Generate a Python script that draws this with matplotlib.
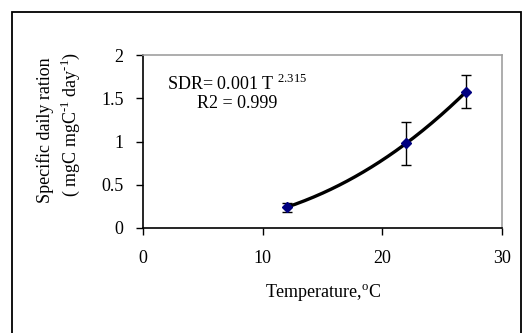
import numpy as np
import matplotlib.pyplot as plt
from matplotlib.patches import Rectangle

temperature = [12, 22, 27]
sdr = [0.24, 0.98, 1.575]
sdr_err = [0.05, 0.25, 0.19]
x_ticks = [0, 10, 20, 30]
y_ticks = [0, 0.5, 1, 1.5, 2]
y_tick_labels = ["0", "0.5", "1", "1.5", "2"]

plt.rcParams['font.family'] = ['Liberation Serif', 'DejaVu Serif']
plt.rcParams['mathtext.fontset'] = 'custom'
plt.rcParams['mathtext.rm'] = 'Liberation Serif'

W, H = 522, 333
fig = plt.figure(figsize=(W / 100, H / 100), dpi=100)

# outer frame
fig.patches.append(Rectangle((11.5 / W, -0.05), (520.5 - 11.5) / W, (H - 12) / H + 0.05,
                             transform=fig.transFigure, fill=False, edgecolor='black',
                             linewidth=1.3))

ax = fig.add_axes([143 / W, (H - 228) / H, (502 - 143) / W, (228 - 55) / H])

# power-law fit
t = np.array(temperature, float)
s = np.array(sdr, float)
b, loga = np.polyfit(np.log(t), np.log(s), 1)
tt = np.linspace(t.min(), t.max(), 200)
ax.plot(tt, np.exp(loga) * tt ** b, color='black', linewidth=2.4, zorder=2)

ax.errorbar(temperature, sdr, yerr=sdr_err, fmt='D', color='#000080', markersize=5.5,
            ecolor='black', elinewidth=1, capsize=3.5, capthick=1, zorder=3)

ax.set_xlim(0, 30)
ax.set_ylim(0, 2)
ax.set_xticks(x_ticks)
ax.set_yticks(y_ticks)
ax.set_yticklabels(y_tick_labels)
ax.tick_params(axis='both', direction='out', length=5, width=1, labelsize=13, colors='black')
ax.tick_params(axis='x', pad=11)
ax.tick_params(axis='y', pad=9)

for side in ['left', 'bottom']:
    ax.spines[side].set_color('black')
    ax.spines[side].set_linewidth(1.2)
for side in ['top', 'right']:
    ax.spines[side].set_color('#a0a0a0')
    ax.spines[side].set_linewidth(1.2)

fig.text(167 / W, (H - 84) / H, 'SDR= 0.001 T $^{\\mathrm{2.315}}$',
         fontsize=13, va='center', ha='left')
fig.text(197 / W, (H - 103) / H, 'R2 = 0.999',
         fontsize=13, va='center', ha='left')

fig.text(45 / W, (H - 130) / H, 'Specific daily ration', rotation=90,
         fontsize=13, va='center', ha='center')
fig.text(70 / W, (H - 124) / H, '( mgC mgC$^{\\text{-1}}$ day$^{\\text{-1}}$)', rotation=90,
         fontsize=13, va='center', ha='center')
fig.text(323 / W, (H - 293) / H, 'Temperature,$^{\\mathrm{o}}$C', fontsize=13,
         va='center', ha='center')

fig.savefig('out.png', dpi=100)
